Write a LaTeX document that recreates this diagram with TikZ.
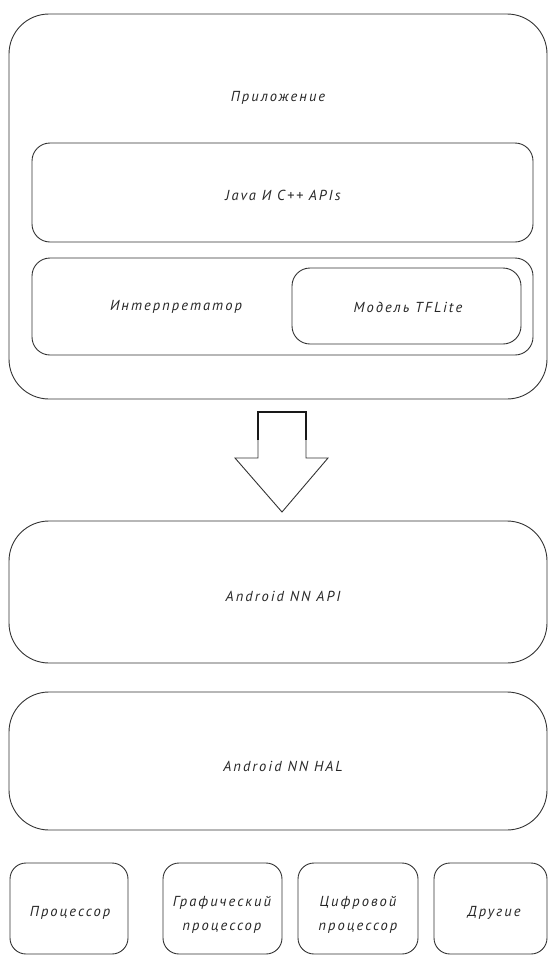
\documentclass[tikz,border=0pt]{standalone}
\usepackage{fontspec}
\setmainfont{PT Sans}[LetterSpace=14]
\begin{document}
\begin{tikzpicture}[x=1pt,y=-1pt,
  box/.style={draw=black!80,line width=0.9pt},
  lbl/.style={font=\itshape\fontsize{14.5}{24}\selectfont,align=center,text=black!85}]
\useasboundingbox (0,0) rectangle (548,956);
\begin{scope}
\clip (0,0) rectangle (548,956);
% outer application box
\draw[box,rounded corners=40] (9,14) rectangle (547,399);
\node[lbl] (app) at (278,98) {Приложение};
\draw[box,rounded corners=18] (32,143) rectangle (533,242);
\node[lbl] (java) at (283,195) {Java И C++ APIs};
\draw[box,rounded corners=18] (32,258) rectangle (533,355);
\node[lbl] (interp) at (176,307) {Интерпретатор};
\draw[box,rounded corners=18] (292,268) rectangle (521,344);
\node[lbl] (model) at (408,307) {Модель TFLite};
% arrow
\draw[box,line join=miter] (258,458) -- (258,412) -- (306,412) -- (306,458) -- (328,458) -- (282,512) -- (235,458) -- cycle;
\draw[draw=black!90,line width=1.4pt] (258,440) -- (258,412) -- (306,412) -- (306,440);
% NN API
\draw[box,rounded corners=40] (9,521) rectangle (547,663);
\node[lbl] (api) at (283,596) {Android NN API};
% HAL
\draw[box,rounded corners=40] (9,692) rectangle (547,830);
\node[lbl] (hal) at (283,766) {Android NN HAL};
% hardware
\draw[box,rounded corners=16] (10,863) rectangle (128,954);
\node[lbl] (cpu) at (70,913) {Процессор};
\draw[box,rounded corners=16] (163,863) rectangle (282,954);
\node[lbl] (gpu) at (222,915) {Графический\\процессор};
\draw[box,rounded corners=16] (298,863) rectangle (418,954);
\node[lbl] (dsp) at (358,915) {Цифровой\\процессор};
\draw[box,rounded corners=16] (434,863) rectangle (547,954);
\node[lbl] (oth) at (494,913) {Другие};
\end{scope}
\end{tikzpicture}
\end{document}
